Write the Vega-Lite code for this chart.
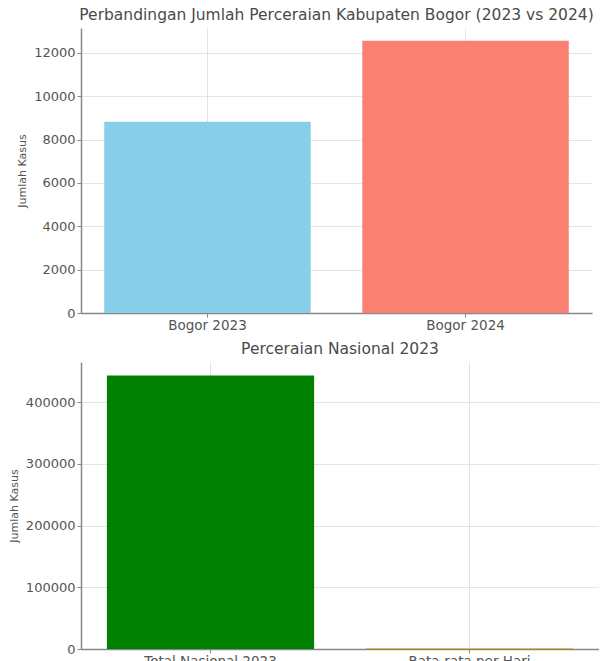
{
  "$schema": "https://vega.github.io/schema/vega-lite/v6.json",
  "background": "white",
  "padding": {"left": 8, "top": 7, "right": 0, "bottom": 0},
  "spacing": 9,
  "resolve": {"scale": {"color": "independent", "x": "independent", "y": "independent"}},
  "config": {
    "font": "DejaVu Sans",
    "view": {"stroke": null},
    "title": {"fontSize": 15.5, "fontWeight": "normal", "color": "#4a4a4a", "offset": 5},
    "axis": {
      "labelFont": "DejaVu Sans", "labelFontSize": 13, "labelColor": "#555",
      "titleFont": "DejaVu Sans", "titleFontSize": 11, "titleFontWeight": "normal", "titleColor": "#555",
      "domainColor": "#888", "domainWidth": 1.5, "tickColor": "#888", "tickSize": 4,
      "gridColor": "#dddddd", "gridOpacity": 0.8, "zindex": 1
    }
  },
  "vconcat": [
    {
      "title": "Perbandingan Jumlah Perceraian Kabupaten Bogor (2023 vs 2024)",
      "width": 511, "height": 285,
      "data": {"values": [
        {"kategori": "Bogor 2023", "jumlah": 8830},
        {"kategori": "Bogor 2024", "jumlah": 12560}
      ]},
      "mark": {"type": "bar"},
      "encoding": {
        "x": {"field": "kategori", "type": "nominal", "sort": null,
              "scale": {"paddingInner": 0.2, "paddingOuter": 0.09},
              "axis": {"title": null, "labelAngle": 0, "grid": true, "bandPosition": 0.5, "labelPadding": 1, "labelFontSize": 13.5}},
        "y": {"field": "jumlah", "type": "quantitative",
              "scale": {"domain": [0, 13150], "nice": false},
              "axis": {"title": "Jumlah Kasus", "values": [0, 2000, 4000, 6000, 8000, 10000, 12000], "format": "d", "grid": true, "titlePadding": 6}},
        "color": {"field": "kategori", "type": "nominal",
                  "scale": {"domain": ["Bogor 2023", "Bogor 2024"], "range": ["#87ceeb", "#fa8072"]},
                  "legend": null}
      }
    },
    {
      "title": "Perceraian Nasional 2023",
      "width": 518, "height": 287,
      "data": {"values": [
        {"kategori": "Total Nasional 2023", "jumlah": 443000},
        {"kategori": "Rata-rata per Hari", "jumlah": 1214}
      ]},
      "mark": {"type": "bar"},
      "encoding": {
        "x": {"field": "kategori", "type": "nominal", "sort": null,
              "scale": {"paddingInner": 0.2, "paddingOuter": 0.1},
              "axis": {"title": null, "labelAngle": 0, "grid": true, "bandPosition": 0.5, "labelPadding": 1, "labelFontSize": 13.5}},
        "y": {"field": "jumlah", "type": "quantitative",
              "scale": {"domain": [0, 465000], "nice": false},
              "axis": {"title": "Jumlah Kasus", "values": [0, 100000, 200000, 300000, 400000], "format": "d", "grid": true, "titlePadding": 6}},
        "color": {"field": "kategori", "type": "nominal",
                  "scale": {"domain": ["Total Nasional 2023", "Rata-rata per Hari"], "range": ["#008000", "#ffa500"]},
                  "legend": null}
      }
    }
  ]
}
